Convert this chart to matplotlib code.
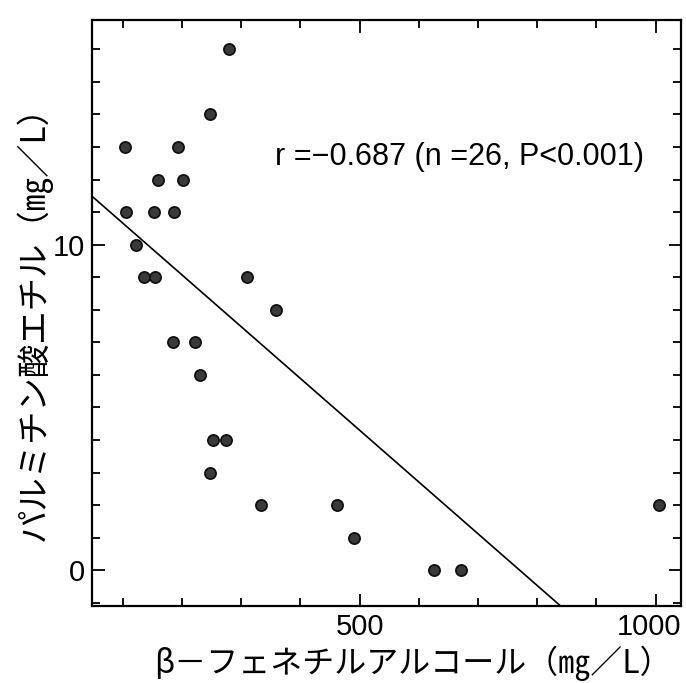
import numpy as np
import matplotlib
matplotlib.use('Agg')
import matplotlib.pyplot as plt
import matplotlib.transforms as mtransforms
from matplotlib.ticker import MultipleLocator, FixedLocator

# ---- data ----
phenethyl_alcohol = [104, 106, 122, 135, 155, 153, 159, 186, 185, 194, 202, 222, 230,
                     248, 253, 248, 274, 280, 310, 334, 358, 462, 490, 626, 672, 1006]
ethyl_palmitate = [13, 11, 10, 9, 9, 11, 12, 11, 7, 13, 12, 7, 6,
                   3, 4, 14, 4, 16, 9, 2, 8, 2, 1, 0, 0, 2]
reg_intercept = 12.25
reg_slope = -0.0159
x_major_ticks = [500, 1000]
y_major_ticks = [0, 10]
annotation = "r =−0.687 (n =26, P<0.001)"
xlabel = "β－フェネチルアルコール（㎎／L）"
ylabel = "パルミチン酸エチル（㎎／L）"

num_font = ['Liberation Sans', 'DejaVu Sans']
jp_font = ['Noto Sans CJK JP', 'DejaVu Sans']

fig = plt.figure(figsize=(6.86, 6.83), dpi=100)
ax = fig.add_axes([92/686, 1-606/683, 589/686, 586/683])

ax.scatter(phenethyl_alcohol, ethyl_palmitate, s=8**2, marker='o',
           facecolor='#3a3a3a', edgecolor='#111111', linewidths=1.3, zorder=3)

xlim = (48, 1043)
ylim = (-1.1, 16.9)
xs = np.array(xlim)
ax.plot(xs, reg_intercept + reg_slope * xs, color='black', lw=1.2, zorder=2)

ax.set_xlim(*xlim)
ax.set_ylim(*ylim)

ax.xaxis.set_major_locator(FixedLocator(x_major_ticks))
ax.xaxis.set_minor_locator(MultipleLocator(100))
ax.yaxis.set_major_locator(FixedLocator(y_major_ticks))
ax.yaxis.set_minor_locator(MultipleLocator(1))

ax.tick_params(which='both', direction='in', top=True, right=True, width=1.3, color='black')
ax.tick_params(which='major', length=9, pad=5)
ax.tick_params(which='minor', length=5.5)
for s in ax.spines.values():
    s.set_linewidth(1.6)

for lab in ax.get_xticklabels() + ax.get_yticklabels():
    lab.set_family(num_font)
    lab.set_fontsize(21)

# nudge the rightmost x tick label slightly left so it stays inside the figure
last_lab = ax.get_xticklabels()[-1]
last_lab.set_transform(last_lab.get_transform() +
                       mtransforms.ScaledTranslation(-7/100, 0, fig.dpi_scale_trans))

ax.text(0.311, 0.766, annotation, transform=ax.transAxes, ha='left', va='center',
        fontsize=22, family=num_font)

ax.set_xlabel(xlabel, family=jp_font, fontsize=23, va='center')
ax.xaxis.set_label_coords(0.545, -0.097)
ax.set_ylabel(ylabel, family=jp_font, fontsize=24, va='center', ha='center', rotation=90)
ax.yaxis.set_label_coords(-0.100, 0.497)

fig.savefig('out.png', dpi=100)
